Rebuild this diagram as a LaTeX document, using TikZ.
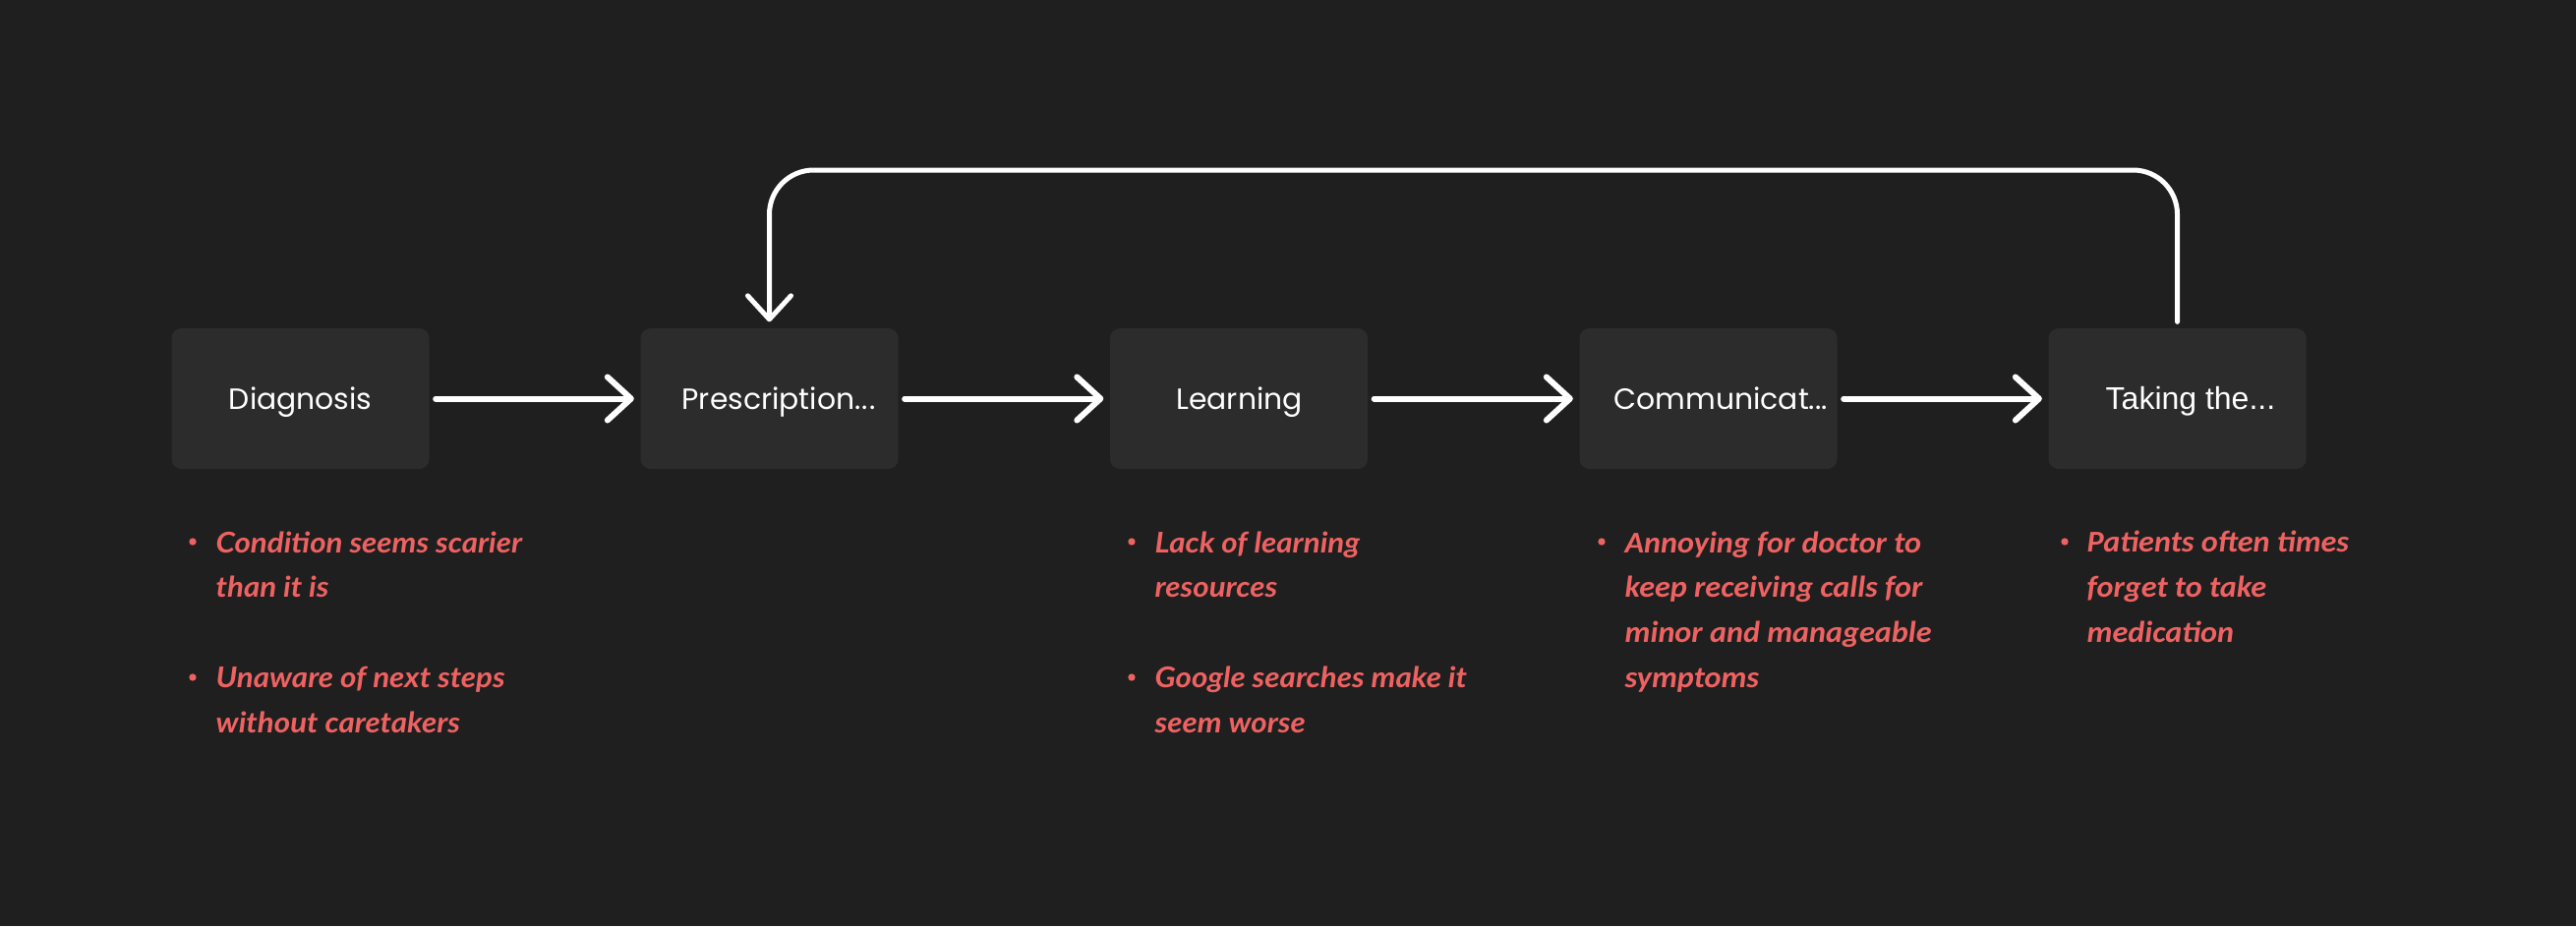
\documentclass[tikz,border=0pt]{standalone}
\usepackage{fontspec}
\usetikzlibrary{arrows.meta}
\newfontfamily\boxfont{Poppins}
\newfontfamily\takefont{Liberation Sans}
\newfontfamily\handA{Lato}[FakeStretch=1.08]
\newfontfamily\handB{Carlito}[FakeStretch=1.05]
\definecolor{bg}{HTML}{1F1F1F}
\definecolor{boxfill}{HTML}{2C2C2C}
\definecolor{note}{HTML}{EF6262}
\begin{document}
\begin{tikzpicture}[x=0.3pt,y=-0.3pt,
  stepbox/.style={fill=boxfill, rounded corners=3pt, minimum width=78.6pt, minimum height=42.9pt, inner sep=0pt},
  lbl/.style={text=white, inner sep=0pt, font=\boxfont\fontsize{8.95pt}{10pt}\selectfont},
  flow/.style={draw=white, line width=1.8pt, line cap=round, line join=round,
    -{Straight Barb[length=7.2pt, width=13.2pt, round]}, shorten <=1.8pt, shorten >=1.8pt},
  noteA/.style={text=note, inner sep=0pt, anchor=base west, align=left, font=\handA\bfseries\itshape\fontsize{8.7pt}{13.65pt}\selectfont},
  noteB/.style={text=note, inner sep=0pt, anchor=base west, align=left, font=\handB\bfseries\itshape\fontsize{9.2pt}{13.7pt}\selectfont},
  dot/.style={circle, fill=note, inner sep=0pt, minimum size=2.2pt}]
\fill[bg] (0,0) rectangle (2620,942);
\useasboundingbox (0,0) rectangle (2620,942);
% boxes
\node[stepbox] (d) at (305.5,405.5) {};
\node[stepbox] (p) at (782.5,405.5) {};
\node[stepbox] (l) at (1260,405.5) {};
\node[stepbox] (c) at (1737.5,405.5) {};
\node[stepbox] (t) at (2214.5,405.5) {};
% labels
\node[lbl, anchor=base] (dl) at (305.7,416) {Diagnosis};
\node[lbl, anchor=base west] (pl) at (693,416) {Prescription.\kern0.4pt.\kern0.4pt.};
\node[lbl, anchor=base] (ll) at (1260.5,416) {Learning};
\node[lbl, anchor=base west] (cl) at (1641,416) {Communicat...};
\node[lbl, anchor=base west, font=\takefont\fontsize{9.6pt}{10pt}\selectfont] (tl) at (2141,416.5) {Taking the...};
% connectors
\draw[flow] (d) -- (p);
\draw[flow] (p) -- (l);
\draw[flow] (l) -- (c);
\draw[flow] (c) -- (t);
\coordinate (top) at (0,173);
\draw[flow, line width=1.5pt, rounded corners=13.5pt] (t.north) -- (t.north |- top) -- (p.north |- top) -- (p.north);
% notes (base anchor = baseline of the last line)
\node[dot] (b1) at (196,551) {};
\node[noteA] (n1) at (219,607.5) {Condition seems scarier\\than it is};
\node[dot] (b2) at (196,689) {};
\node[noteA] (n2) at (219,745) {Unaware of next steps\\without caretakers};
\node[dot] (b3) at (1151,551) {};
\node[noteA] (n3) at (1174,607.5) {Lack of learning\\resources};
\node[dot] (b4) at (1151,689) {};
\node[noteA] (n4) at (1174,745) {Google searches make it\\seem worse};
\node[dot] (b5) at (1629,551) {};
\node[noteB] (n5) at (1652,699) {Annoying for doctor to\\keep receiving calls for\\minor and manageable\\symptoms};
\node[dot] (b6) at (2100,551) {};
\node[noteB] (n6) at (2122,653) {Patients often times\\forget to take\\medication};
\end{tikzpicture}
\end{document}
